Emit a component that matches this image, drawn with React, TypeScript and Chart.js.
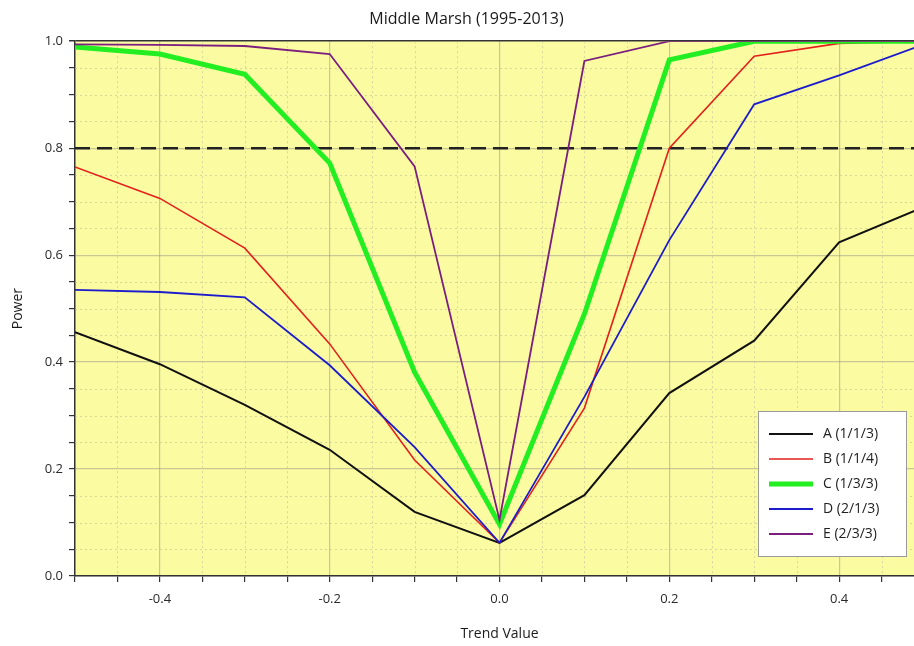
import React, { useEffect, useRef } from "react";
import { Chart, registerables } from "chart.js";

Chart.register(...registerables);

const chartTitle = "Middle Marsh (1995-2013)";
const xTitle = "Trend Value";
const yTitle = "Power";
const trendValues = [-0.5, -0.4, -0.3, -0.2, -0.1, 0, 0.1, 0.2, 0.3, 0.4, 0.5];
const seriesNames = ["A (1/1/3)", "B (1/1/4)", "C (1/3/3)", "D (2/1/3)", "E (2/3/3)"];
const seriesA = [0.456, 0.396, 0.32, 0.236, 0.12, 0.062, 0.151, 0.342, 0.44, 0.624, 0.69];
const seriesB = [0.765, 0.706, 0.613, 0.434, 0.217, 0.062, 0.314, 0.8, 0.972, 0.996, 1.0];
const seriesC = [0.989, 0.976, 0.938, 0.772, 0.381, 0.097, 0.49, 0.965, 1.0, 1.0, 1.0];
const seriesD = [0.535, 0.531, 0.521, 0.394, 0.241, 0.062, 0.335, 0.628, 0.882, 0.936, 0.994];
const seriesE = [0.994, 0.993, 0.991, 0.976, 0.766, 0.105, 0.963, 1.0, 1.0, 1.0, 1.0];
const thresholdValue = 0.8;
const xRange = [-0.5, 0.5];
const yRange = [0, 1];

const FONT = "'Open Sans', 'DejaVu Sans', sans-serif";

const isMajor = (v: number) => Math.abs(Math.round(v / 0.2) * 0.2 - v) < 1e-6;

const bgPlugin = {
  id: "plotBg",
  beforeDraw(chart: any) {
    const { ctx, chartArea } = chart;
    ctx.save();
    ctx.fillStyle = "#fbfba2";
    ctx.fillRect(chartArea.left, chartArea.top, chartArea.right - chartArea.left, chartArea.bottom - chartArea.top);
    ctx.restore();
  },
  beforeDatasetsDraw(chart: any) {
    const { ctx, chartArea, scales } = chart;
    ctx.save();
    ctx.strokeStyle = "rgba(185,185,150,0.55)";
    ctx.lineWidth = 1;
    ctx.setLineDash([2, 3]);
    scales.x.ticks.forEach((t: any) => {
      if (isMajor(t.value)) return;
      const px = Math.round(scales.x.getPixelForValue(t.value)) + 0.5;
      if (px <= chartArea.left + 1) return;
      ctx.beginPath();
      ctx.moveTo(px, chartArea.top);
      ctx.lineTo(px, chartArea.bottom);
      ctx.stroke();
    });
    scales.y.ticks.forEach((t: any) => {
      if (isMajor(t.value)) return;
      const py = Math.round(scales.y.getPixelForValue(t.value)) + 0.5;
      ctx.beginPath();
      ctx.moveTo(chartArea.left, py);
      ctx.lineTo(chartArea.right, py);
      ctx.stroke();
    });
    ctx.restore();
  },
};

const legendPlugin = {
  id: "boxLegend",
  afterDraw(chart: any) {
    const { ctx } = chart;
    const x0 = 758, y0 = 411, w = 148, h = 145;
    ctx.save();
    ctx.fillStyle = "#ffffff";
    ctx.fillRect(x0, y0, w, h);
    ctx.strokeStyle = "#9a9a9a";
    ctx.lineWidth = 1;
    ctx.strokeRect(x0 + 0.5, y0 + 0.5, w, h);
    ctx.font = `14px ${FONT}`;
    ctx.textBaseline = "middle";
    chart.data.datasets.forEach((ds: any, i: number) => {
      if (i >= seriesNames.length) return;
      const cy = 434 + i * 25;
      ctx.strokeStyle = ds.borderColor;
      ctx.lineWidth = ds.borderWidth;
      ctx.setLineDash([]);
      ctx.beginPath();
      ctx.moveTo(769, cy);
      ctx.lineTo(813, cy);
      ctx.stroke();
      ctx.fillStyle = "#222";
      ctx.fillText(ds.label, 823, cy);
    });
    ctx.restore();
  },
};

export default function App() {
  const ref = useRef<HTMLCanvasElement | null>(null);
  useEffect(() => {
    document.body.style.margin = "0";
    document.body.style.overflow = "hidden";
    const toPts = (arr: number[]) => trendValues.map((x, i) => ({ x, y: arr[i] }));
    const colors = ["#111111", "#e3201b", "#22ee22", "#1c1ccc", "#7b1e7e"];
    const widths = [2, 1.6, 5, 1.8, 1.8];
    const all = [seriesA, seriesB, seriesC, seriesD, seriesE];
    const datasets: any[] = all.map((arr, i) => ({
      label: seriesNames[i],
      data: toPts(arr),
      borderColor: colors[i],
      backgroundColor: colors[i],
      borderWidth: widths[i],
      pointRadius: 0,
      tension: 0,
      order: 5 - i,
    }));
    datasets.push({
      label: "threshold",
      data: xRange.map((x) => ({ x, y: thresholdValue })),
      borderColor: "#222222",
      borderWidth: 2.5,
      borderDash: [15, 7],
      pointRadius: 0,
      order: 10,
    });
    const chart = new Chart(ref.current as HTMLCanvasElement, {
      type: "line",
      data: { datasets },
      options: {
        animation: false,
        responsive: false,
        maintainAspectRatio: false,
        layout: { padding: { left: 0, right: 0, top: 0, bottom: 0 } },
        plugins: {
          legend: { display: false },
          tooltip: { enabled: false },
          title: {
            display: true,
            text: chartTitle,
            color: "#1a1a1a",
            font: { family: FONT, size: 16, weight: "normal" },
            padding: { top: 10, bottom: 12 },
          },
        },
        scales: {
          x: {
            type: "linear",
            min: xRange[0],
            max: xRange[1],
            afterFit: (s: any) => { s.height = 70; },
            ticks: {
              stepSize: 0.05,
              autoSkip: false,
              maxRotation: 0,
              padding: 9,
              color: "#2a2a2a",
              font: { family: FONT, size: 13 },
              callback: (v: any) => (isMajor(Number(v)) ? Number(v).toFixed(1) : ""),
            },
            grid: {
              color: (c: any) => (c.tick && isMajor(c.tick.value) ? "rgba(150,150,140,0.5)" : "rgba(0,0,0,0)"),
              lineWidth: 1.2,
              tickColor: "#333",
              tickLength: 6,
            },
            border: { color: "#333", width: 1.5 },
            title: {
              display: true,
              text: xTitle,
              color: "#1a1a1a",
              font: { family: FONT, size: 14 },
              padding: { top: 8 },
            },
          },
          y: {
            type: "linear",
            min: yRange[0],
            max: yRange[1],
            afterFit: (s: any) => { s.width = 75; },
            ticks: {
              stepSize: 0.05,
              autoSkip: false,
              padding: 6,
              color: "#2a2a2a",
              font: { family: FONT, size: 13 },
              callback: (v: any) => (isMajor(Number(v)) ? Number(v).toFixed(1) : ""),
            },
            grid: {
              color: (c: any) => {
                if (!c.tick) return "rgba(0,0,0,0)";
                if (Math.abs(c.tick.value - 1) < 1e-6) return "#333";
                return isMajor(c.tick.value) ? "rgba(150,150,140,0.5)" : "rgba(0,0,0,0)";
              },
              lineWidth: (c: any) => (c.tick && Math.abs(c.tick.value - 1) < 1e-6 ? 1.5 : 1.2),
              tickColor: "#333",
              tickLength: 6,
            },
            border: { color: "#333", width: 1.5 },
            title: {
              display: true,
              text: yTitle,
              color: "#1a1a1a",
              font: { family: FONT, size: 14 },
              padding: { top: 10, bottom: 4 },
            },
          },
        },
      },
      plugins: [bgPlugin, legendPlugin],
    });
    return () => chart.destroy();
  }, []);
  return (
    <div style={{ position: "fixed", left: 0, top: 0, width: 933, height: 646, background: "#fff" }}>
      <canvas ref={ref} width={933} height={646} style={{ display: "block" }} />
    </div>
  );
}
